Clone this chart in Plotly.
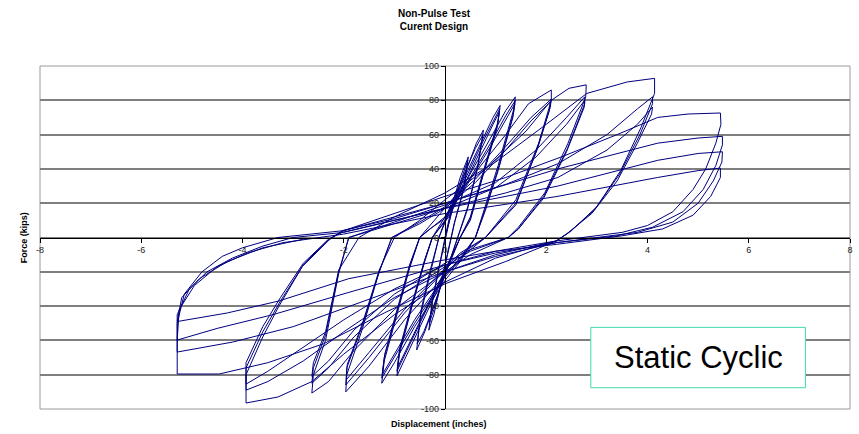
import plotly.graph_objects as go

# Load-displacement history of the static cyclic test, grouped by target amplitude.
# Each row is one full cycle: loading to +peak, unloading, loading to -peak, unloading.

disp_a1 = [0, 0.15, 0.3, 0.46, 0.38, 0.2, 0.05, -0.1, -0.22, -0.32, -0.25, -0.12, 0.02,
           0.15, 0.3, 0.45, 0.37, 0.18, 0.03, -0.12, -0.22, -0.31, -0.24, -0.1, 0.0]
force_a1 = [0, 20, 35, 47, 30, 10, -10, -30, -45, -54, -38, -18, 0,
            18, 32, 45, 28, 8, -12, -32, -42, -50, -35, -15, 0]

disp_a2 = [0.2, 0.45, 0.62, 0.76, 0.65, 0.45, 0.25, 0.05, -0.2, -0.4, -0.56, -0.48, -0.3, -0.12,
           0.1, 0.4, 0.6, 0.75, 0.64, 0.44, 0.24, 0.02, -0.22, -0.42, -0.55, -0.47, -0.3, -0.12]
force_a2 = [22, 42, 55, 62.7, 42, 18, 0, -18, -38, -55, -65.6, -45, -22, 0,
            18, 38, 52, 60, 40, 16, -1, -20, -40, -55, -62, -42, -20, 0]

disp_a3 = [0.1, 0.4, 0.75, 0.95, 1.09, 1.05, 0.75, 0.5, 0.3, 0.05, -0.3, -0.65, -0.85, -0.95, -0.9, -0.65, -0.4, -0.25,
           0.1, 0.4, 0.75, 0.95, 1.08, 1.04, 0.75, 0.5, 0.3, 0.05, -0.3, -0.65, -0.85, -0.95, -0.9, -0.65, -0.4, -0.25,
           0.1, 0.4, 0.75, 0.95, 1.07, 1.03, 0.75, 0.5, 0.3, 0.05, -0.3, -0.65, -0.85, -0.94, -0.89, -0.65, -0.4, -0.25]
force_a3 = [16, 36, 58, 70, 77, 68, 38, 12, 0, -18, -40, -62, -75, -80.7, -68, -40, -14, 0,
            14, 34, 56, 68, 75, 66, 37, 11, 0, -17, -38, -60, -72, -78, -66, -39, -13, 0,
            13, 32, 54, 66, 73, 64, 36, 10, 0, -16, -37, -58, -70, -76, -64, -38, -13, 0]

disp_a4 = [0, 0.4, 0.9, 1.2, 1.39, 1.35, 1.05, 0.8, 0.6, 0.3, 0, -0.6, -1.0, -1.25, -1.2, -0.95, -0.7, -0.5,
           -0.3, 0, 0.4, 0.9, 1.2, 1.39, 1.35, 1.05, 0.8, 0.6, 0.3, 0, -0.6, -1.0, -1.25, -1.2, -0.95, -0.7, -0.5,
           -0.3, 0, 0.4, 0.9, 1.2, 1.38, 1.34, 1.05, 0.8, 0.6, 0.3, 0, -0.6, -1.0, -1.24, -1.19, -0.95, -0.7, -0.5]
force_a4 = [12, 32, 58, 74, 82, 74, 42, 18, 0, -14, -25, -52, -73, -85, -72, -45, -18, 0,
            5, 12, 30, 55, 71, 80, 72, 40, 17, 0, -13, -23, -50, -70, -82, -70, -43, -17, 0,
            5, 11, 29, 53, 69, 78, 70, 39, 16, 0, -12, -22, -48, -68, -80, -68, -42, -16, 0]

disp_a5 = [0, 0.6, 1.2, 1.65, 2.1, 2.1, 1.85, 1.4, 0.8, 0.3, 0, -0.8, -1.5, -1.96, -1.94, -1.64, -1.31, -1.05,
           -0.5, 0, 0.6, 1.2, 1.7, 2.1, 2.08, 1.83, 1.4, 0.8, 0.3, 0, -0.8, -1.5, -1.96, -1.94, -1.64, -1.3, -1.05,
           -0.5, 0, 0.6, 1.2, 1.7, 2.08, 2.06, 1.8, 1.4, 0.8, 0.3, 0, -0.8, -1.5, -1.95, -1.93, -1.63, -1.3, -1.0]
force_a5 = [17, 38, 60, 78, 86, 80, 55, 22, 0, -12, -22, -48, -75, -90, -80, -54, -21, 0,
            9, 18, 34, 53, 70, 80.7, 76, 52, 20, 0, -10, -19, -44, -70, -86, -76, -52, -20, 0,
            8, 17, 32, 51, 68, 79, 74, 50, 19, 0, -9, -18, -42, -67, -83, -74, -50, -19, 0]

disp_a6 = [-0.5, 0, 0.8, 1.6, 2.1, 2.45, 2.79, 2.78, 2.43, 1.97, 1.45, 1.25, 0.5, 0, -1, -1.8, -2.3, -2.63, -2.6, -2.36, -2.1, -1.9,
           -1, 0, 1, 1.8, 2.4, 2.76, 2.76, 2.42, 1.95, 1.45, 1.25, 0.5, 0, -1, -1.8, -2.3, -2.63, -2.6, -2.36, -2.1, -1.9,
           -1, 0, 1, 1.8, 2.4, 2.76, 2.75, 2.4, 1.95, 1.45, 1.25, 0.5, 0, -1, -1.8, -2.3, -2.63, -2.6, -2.36, -2.1, -1.7]
force_a6 = [10, 22, 40, 62, 80, 87, 89, 82, 55, 26, 6, 0, -10, -20, -42, -66, -84, -90.7, -80, -60, -21, 0,
            9, 19, 32, 51, 70, 82, 78, 52, 24, 5, 0, -8, -17, -36, -58, -76, -85, -76, -57, -20, 0,
            8, 17, 29, 47, 66, 80, 76, 50, 23, 5, 0, -7, -15, -33, -54, -72, -81, -73, -55, -19, 0]

disp_a7 = [-1, 0, 1, 2, 2.8, 3.6, 4.14, 4.14, 3.87, 3.47, 3.0, 2.5, 2.2, 1, 0, -1, -2, -2.63, -3.3, -3.93, -3.93, -3.6, -3.28, -2.82, -2.29, -2.03,
           -1, 0, 1.2, 2.23, 3.2, 3.8, 4.1, 4.1, 3.85, 3.45, 2.95, 2.45, 2.2, 1, 0, -1, -2, -2.8, -3.5, -3.93, -3.93, -3.6, -3.25, -2.8, -2.3, -2.03,
           -1, 0, 1.2, 2.23, 3.2, 3.8, 4.1, 4.08, 3.8, 3.4, 2.9, 2.4, 2.2, 1, 0, -1, -2, -2.9, -3.5, -3.93, -3.93, -3.6, -3.25, -2.8, -2.3, -2.0]
force_a7 = [12, 26, 44, 66, 84, 90.7, 92.8, 84, 64, 39, 18, 4, -2, -12, -26, -45, -68, -84, -93, -96.5, -80, -58, -40, -17, -1.5, 4,
            11, 20, 31, 43, 60, 75, 82, 78, 60, 37, 16, 3, -2, -10, -20, -35, -55, -72, -84, -89, -76, -55, -37, -16, -1, 3,
            10, 17, 26, 35, 51, 66, 76, 72, 55, 33, 14, 2, -2, -8, -16, -30, -48, -66, -78, -85.5, -73, -52, -35, -15, -1, 4]

disp_a8 = [-1, 0, 1.2, 2.3, 3.4, 4.2, 4.8, 5.44, 5.45, 5.35, 5.15, 4.9, 4.5, 4.0, 3.5, 2.2,
           1.2, 0, -1.2, -2.4, -3.5, -4.46, -5.29, -5.29, -5.15, -4.8, -4.4, -4.0, -3.3, -2.0,
           -1, 0, 2.23, 4.2, 5.0, 5.48, 5.48, 5.35, 5.1, 4.7, 4.1, 3.4, 2.2,
           1, 0, -1.5, -3.0, -4.2, -5.29, -5.29, -5.05, -4.7, -4.2, -3.6, -3.0, -2.0,
           -1, 0, 2.23, 4.2, 5.0, 5.48, 5.47, 5.3, 5.0, 4.5, 3.8, 2.2,
           1, 0, -1.9, -3.4, -4.5, -5.29, -5.25, -4.95, -4.5, -3.9, -3.2, -2.0,
           -1, 0, 2.23, 4.2, 5.0, 5.44, 5.44, 5.25, 4.9, 4.3, 3.5, 2.2,
           1, 0, -1.9, -3.28, -4.3, -5.29, -5.2, -4.85, -4.3, -3.6, -2.8]
force_a8 = [14, 24, 35, 47, 60, 70, 72, 72.6, 66, 55, 40, 28, 15, 7, 3, -2,
            -14, -27, -44, -62, -73, -79.6, -79.6, -50, -33, -20, -11, -6, 0, 4,
            12, 20, 40, 55, 58, 59, 54, 42, 28, 15, 6, 1, -3,
            -11, -20, -36, -52, -61, -66.8, -45, -30, -20, -12, -5, 0, 3,
            10, 17, 30, 45, 49, 50, 44, 33, 20, 9, 3, -3,
            -9, -16, -32, -45, -53, -59.8, -42, -28, -17, -9, -3, 2,
            8, 14, 24, 35, 39, 40.5, 35, 24, 13, 5, 1, -4,
            -8, -13, -24, -37, -44, -49, -35, -24, -14, -6, -1]

x_tick_vals = [-8, -6, -4, -2, 0, 2, 4, 6, 8]
x_tick_text = ["-8", "-6", "-4", "-2", "0", "2", "4", "6", "8"]
y_tick_vals = [-100, -80, -60, -40, -20, 0, 20, 40, 60, 80, 100]
y_tick_text = ["-100", "-80", "-60", "-40", "-20", "0", "20", "40", "60", "80", "100"]

groups = [(disp_a1, force_a1), (disp_a2, force_a2), (disp_a3, force_a3), (disp_a4, force_a4),
          (disp_a5, force_a5), (disp_a6, force_a6), (disp_a7, force_a7), (disp_a8, force_a8)]

displacement, force = [], []
for d, f in groups:
    assert len(d) == len(f)
    displacement += d
    force += f

FONT = "Liberation Sans, Arial, sans-serif"

fig = go.Figure()
fig.add_trace(go.Scatter(
    x=displacement, y=force, mode="lines",
    line=dict(color="#000080", width=1),
    hoverinfo="skip",
))

fig.update_layout(
    width=859, height=434,
    margin=dict(l=40, r=6, t=66, b=25),
    paper_bgcolor="white", plot_bgcolor="white",
    showlegend=False,
    font=dict(family=FONT, size=9, color="black"),
    xaxis=dict(
        range=[-8, 8], anchor="free", position=0.5,
        showline=True, linecolor="black", linewidth=1.2,
        ticks="outside", ticklen=4, tickcolor="black",
        tickvals=x_tick_vals, ticktext=x_tick_text,
        tickfont=dict(family=FONT, size=9, color="#222"),
        showgrid=False, zeroline=False,
    ),
    yaxis=dict(
        range=[-100, 100], anchor="free", position=0.5,
        showline=True, linecolor="black", linewidth=1.2,
        ticks="outside", ticklen=4, tickcolor="black",
        tickvals=y_tick_vals, ticktext=y_tick_text,
        tickfont=dict(family=FONT, size=9, color="#222"),
        showgrid=True, gridcolor="#7f7f7f", gridwidth=1.5,
        zeroline=False,
    ),
    shapes=[
        dict(type="rect", xref="paper", yref="paper", x0=0, x1=1, y0=0, y1=1,
             line=dict(color="#9a9a9a", width=1), layer="below"),
        dict(type="rect", xref="paper", yref="paper", x0=0.680, x1=0.945, y0=0.062, y1=0.238,
             line=dict(color="#3fdcae", width=1), fillcolor="white", layer="above"),
    ],
    annotations=[
        dict(text="<b>Non-Pulse Test</b><br><b>Curent Design</b>", xref="paper", yref="paper",
             x=0.487, y=1.133, xanchor="center", yanchor="middle", showarrow=False,
             font=dict(family=FONT, size=10, color="black")),
        dict(text="<b>Force (kips)</b>", xref="paper", yref="paper", textangle=-90,
             x=-0.02, y=0.5, xanchor="center", yanchor="middle", showarrow=False,
             font=dict(family=FONT, size=9, color="black")),
        dict(text="<b>Displacement (inches)</b>", xref="paper", yref="paper",
             x=0.492, y=-0.044, xanchor="center", yanchor="middle", showarrow=False,
             font=dict(family=FONT, size=9, color="black")),
        dict(text="Static Cyclic", xref="paper", yref="paper",
             x=0.813, y=0.149, xanchor="center", yanchor="middle", showarrow=False,
             font=dict(family=FONT, size=31, color="black")),
    ],
)

fig.write_html("out.html")
